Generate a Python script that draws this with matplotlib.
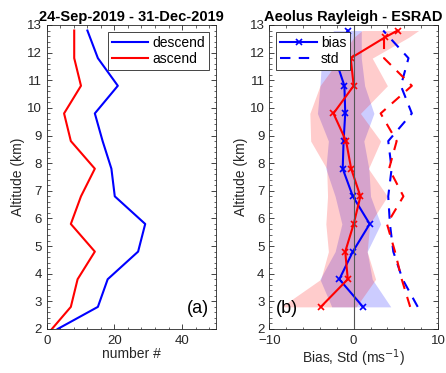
import numpy as np
import matplotlib.pyplot as plt
from matplotlib.ticker import AutoMinorLocator

# sample counts per altitude bin
alt_count = [2.0, 2.8, 3.8, 4.8, 5.8, 6.8, 7.8, 8.8, 9.8, 10.8, 11.8, 12.8]
n_descend = [3.2, 15.1, 18.0, 27.0, 29.1, 20.1, 19.1, 16.5, 14.2, 21.0, 15.1, 12.0]
n_ascend = [1.5, 7.1, 9.1, 14.2, 7.1, 10.1, 14.2, 7.1, 5.1, 10.1, 8.1, 8.1]

# Aeolus Rayleigh minus ESRAD, descending orbits
alt_desc = [2.8, 3.8, 4.8, 5.8, 6.8, 7.8, 8.8, 9.8, 10.8, 11.8, 12.8]
bias_desc = [1.1, -1.7, -0.1, 1.9, -0.1, -1.3, -1.2, -1.0, -1.1, -2.2, -0.7]
std_desc = [7.6, 5.8, 4.7, 4.3, 4.1, 4.5, 4.1, 6.9, 5.6, 6.5, 3.5]
lo_desc = [-2.6, -4.0, -2.2, -1.4, -2.2, -3.3, -3.0, -4.3, -4.0, -3.8, -2.4]
hi_desc = [4.4, 2.2, 1.6, 3.2, 2.0, 1.8, 1.2, 2.4, 1.3, 0.9, 0.9]

# ascending orbits
alt_asc = [2.8, 3.8, 4.8, 5.8, 6.8, 7.8, 8.8, 9.8, 10.8, 11.8, 12.55, 12.8]
bias_asc = [-3.9, -0.7, -1.0, 0.0, 0.8, -0.3, -0.9, -2.4, 0.0, -0.35, 3.7, 5.2]
std_asc = [6.7, 5.7, 4.9, 3.95, 5.9, 4.2, 5.1, 3.2, 6.9, 3.6, 3.6, 3.6]
lo_asc = [-8.6, -3.9, -3.0, -3.3, -3.1, -3.2, -5.1, -5.2, -4.0, -1.6, 0.0, 1.0]
hi_asc = [0.3, 2.6, 1.6, 1.9, 4.0, 1.75, 3.2, 0.8, 4.0, 2.2, 6.5, 7.7]

BLUE = (0, 0, 1)
RED = (1, 0, 0)
TXT = '#262626'

plt.rcParams['font.family'] = 'Liberation Sans'
plt.rcParams['font.size'] = 10

fig = plt.figure(figsize=(4.46, 3.73), dpi=100)
ax1 = fig.add_axes([0.105, 0.118, 0.379, 0.815])
ax2 = fig.add_axes([0.604, 0.118, 0.378, 0.815])


def style(ax):
    ax.set_ylim(2, 13)
    ax.set_yticks(range(2, 14))
    ax.yaxis.set_minor_locator(AutoMinorLocator(5))
    ax.xaxis.set_minor_locator(AutoMinorLocator(5))
    ax.tick_params(which='both', direction='in', top=True, right=True,
                   colors=TXT, labelsize=9.5)
    ax.tick_params(which='major', length=3.5, width=0.6, pad=3.5)
    ax.tick_params(axis='x', which='major', pad=4.5)
    ax.tick_params(which='minor', length=1.8, width=0.5)
    for s in ax.spines.values():
        s.set_linewidth(0.6)
        s.set_color(TXT)
    ax.set_ylabel('Altitude (km)', color=TXT, labelpad=1.5)


# (a) number of collocations
ax1.plot(n_descend, alt_count, color=BLUE, lw=1.5, label='descend')
ax1.plot(n_ascend, alt_count, color=RED, lw=1.5, label='ascend')
ax1.set_xlim(0, 50)
ax1.set_xticks([0, 20, 40])
style(ax1)
ax1.set_xlabel('number #', color=TXT, labelpad=0)
ax1.set_title('24-Sep-2019 - 31-Dec-2019', fontweight='bold', fontsize=10.5, pad=3)
ax1.legend(loc='upper right', fontsize=10, handlelength=2.6, borderpad=0.3,
           labelspacing=0.15, handletextpad=0.3, fancybox=False,
           edgecolor=TXT, framealpha=1).get_frame().set_linewidth(0.6)
ax1.text(0.96, 0.04, '(a)', transform=ax1.transAxes, ha='right', va='bottom', fontsize=13)

# (b) bias and standard deviation
ax2.fill_betweenx(alt_desc, lo_desc, hi_desc, color=BLUE, alpha=0.2, lw=0)
ax2.plot(bias_desc, alt_desc, color=BLUE, lw=1.5, marker='x', ms=5, mew=1.2, label='bias')
ax2.fill_betweenx(alt_asc, lo_asc, hi_asc, color=RED, alpha=0.2, lw=0)
ax2.plot(bias_asc, alt_asc, color=RED, lw=1.5, marker='x', ms=5, mew=1.2)
ax2.plot(std_desc, alt_desc, color=BLUE, lw=1.5, ls=(0, (5, 4)), label='std')
ax2.plot(std_asc, alt_asc, color=RED, lw=1.5, ls=(0, (5, 4)))
ax2.axvline(0, color='#555555', lw=0.8)
ax2.set_xlim(-10, 10)
ax2.set_xticks([-10, 0, 10])
style(ax2)
ax2.set_xlabel('Bias, Std (ms$^{-1}$)', color=TXT, labelpad=0)
ax2.set_title('Aeolus Rayleigh - ESRAD', fontweight='bold', fontsize=10.5, pad=3)
ax2.legend(loc='upper left', fontsize=10, handlelength=2.6, borderpad=0.3,
           labelspacing=0.15, handletextpad=0.3, fancybox=False,
           edgecolor=TXT, framealpha=1).get_frame().set_linewidth(0.6)
ax2.text(0.04, 0.04, '(b)', transform=ax2.transAxes, ha='left', va='bottom', fontsize=13)

fig.savefig('out.png', dpi=100)
